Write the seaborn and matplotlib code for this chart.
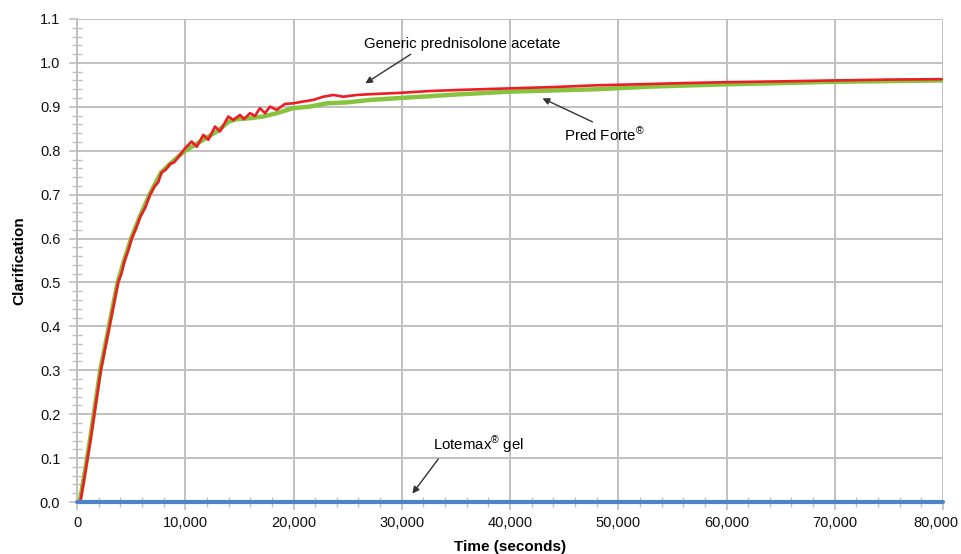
import matplotlib
matplotlib.use("Agg")
import matplotlib.pyplot as plt
import seaborn as sns
from matplotlib.ticker import FuncFormatter, MultipleLocator

# Values (time in seconds, clarification 0-1)
generic_time = [0, 300, 650, 980, 1300, 1600, 1900, 2200, 2600, 3000, 3400, 3800, 4100,
                4400, 4700, 5050, 5400, 5850, 6300, 6750, 7200, 7500, 7800, 8200, 8600,
                9000, 9500, 10000, 10590, 11060, 11670, 12130, 12750, 13210, 13980,
                14440, 15060, 15430, 15980, 16440, 16900, 17370, 17830, 18450, 19210,
                19980, 20900, 21830, 22750, 23680, 24600, 25840, 27070, 30000, 32610,
                36000, 40000, 44000, 48010, 52930, 56000, 59710, 65000, 69870, 75000,
                79880]
generic_clar = [0.0, 0.0, 0.05, 0.10, 0.15, 0.20, 0.25, 0.30, 0.35, 0.40, 0.45, 0.50, 0.52,
                0.55, 0.57, 0.60, 0.62, 0.65, 0.67, 0.70, 0.72, 0.728, 0.75, 0.757, 0.77,
                0.774, 0.79, 0.806, 0.821, 0.809, 0.836, 0.825, 0.855, 0.844, 0.878,
                0.870, 0.8815, 0.872, 0.8855, 0.879, 0.897, 0.8855, 0.9005, 0.893, 0.9066,
                0.908, 0.912, 0.9157, 0.923, 0.927, 0.923, 0.927, 0.9287, 0.932, 0.936,
                0.939, 0.942, 0.945, 0.949, 0.952, 0.954, 0.956, 0.958, 0.960, 0.962,
                0.963]

pred_forte_time = [0, 250, 600, 930, 1250, 1550, 1850, 2150, 2550, 2950, 3350, 3750, 4350,
                   5000, 5800, 6700, 7750, 8600, 9500, 10000, 11000, 12000, 13000, 14000,
                   14750, 15980, 17210, 18450, 19980, 21520, 23070, 24910, 27070,
                   29530, 35000, 40000, 48010, 52930, 59710, 69870, 79880]
pred_forte_clar = [0.0, 0.0, 0.05, 0.10, 0.15, 0.20, 0.25, 0.30, 0.35, 0.40, 0.45, 0.50,
                   0.55, 0.60, 0.65, 0.70, 0.75, 0.77, 0.79, 0.80, 0.815, 0.83, 0.845,
                   0.866, 0.872, 0.874, 0.878, 0.8855, 0.897, 0.9005, 0.908,
                   0.910, 0.9157, 0.9196, 0.928, 0.9346, 0.940, 0.946, 0.951, 0.957,
                   0.960]

lotemax_time = [0, 20000, 40000, 60000, 80000]
lotemax_clar = [0.0, 0.0, 0.0, 0.0, 0.0]

X_MAX = 80000
GRID = "#c0c0c0"

sns.set_theme(style="whitegrid")
plt.rcParams["font.family"] = ["Liberation Sans", "DejaVu Sans"]
plt.rcParams["mathtext.fontset"] = "custom"
plt.rcParams["mathtext.rm"] = "Liberation Sans"
plt.rcParams["mathtext.default"] = "regular"

fig = plt.figure(figsize=(9.62, 5.54), dpi=100)
ax = fig.add_axes([77 / 962, 52 / 554, 866 / 962, 483 / 554])

sns.lineplot(x=pred_forte_time, y=pred_forte_clar, ax=ax, color="#86c440",
             linewidth=3.2, estimator=None, zorder=3)
sns.lineplot(x=generic_time, y=generic_clar, ax=ax, color="#ee1c25",
             linewidth=1.9, estimator=None, zorder=4)
sns.lineplot(x=lotemax_time, y=lotemax_clar, ax=ax, color="#4d84c6",
             linewidth=3.0, estimator=None, zorder=5, clip_on=False)

ax.set_xlim(0, X_MAX)
ax.set_ylim(0, 1.1)
ax.xaxis.set_major_locator(MultipleLocator(10000))
ax.xaxis.set_minor_locator(MultipleLocator(2000))
ax.yaxis.set_major_locator(MultipleLocator(0.1))
ax.yaxis.set_minor_locator(MultipleLocator(0.02))
# last x label is drawn separately, nudged left so it stays inside the figure
ax.xaxis.set_major_formatter(FuncFormatter(lambda v, _: "" if v >= X_MAX else f"{int(v):,}"))
ax.yaxis.set_major_formatter(FuncFormatter(lambda v, _: f"{v:.1f}"))

ax.grid(True, which="major", color=GRID, linewidth=1.4)
ax.grid(False, which="minor")
for side in ["top", "right"]:
    ax.spines[side].set_visible(False)
for side in ["left", "bottom"]:
    ax.spines[side].set_color(GRID)
    ax.spines[side].set_linewidth(1.4)

ax.tick_params(axis="both", which="both", bottom=True, left=True)
ax.tick_params(axis="both", which="major", direction="out", length=6, width=1.2,
               color=GRID, labelsize=10.5, labelcolor="#111111")
ax.tick_params(axis="both", which="minor", direction="inout", length=7, width=1.0,
               color=GRID)
ax.tick_params(axis="x", which="major", pad=4)
ax.tick_params(axis="y", which="major", pad=6)

ax.annotate(f"{X_MAX:,}", xy=(X_MAX, 0), xycoords=("data", "axes fraction"),
            xytext=(-5, -10), textcoords="offset points", ha="center", va="top",
            fontsize=10.5, color="#111111", annotation_clip=False)

ax.set_xlabel("Time (seconds)", fontsize=11, fontweight="bold", color="black")
ax.set_ylabel("Clarification", fontsize=11, fontweight="bold", color="black")
ax.xaxis.set_label_coords(0.5, -0.078)
ax.yaxis.set_label_coords(-0.059, 0.5)

arrow = dict(arrowstyle="-|>", color="#333333", lw=1.0, mutation_scale=10)
ax.annotate("", xy=(26420, 0.950), xytext=(31040, 1.023), arrowprops=arrow)
ax.text(35570, 1.043, "Generic prednisolone acetate", fontsize=10.8, ha="center",
        va="center", color="black")

ax.annotate("", xy=(42770, 0.922), xytext=(47850, 0.863), arrowprops=arrow)
ax.text(44990, 0.836, "Pred Forte$^{®}$", fontsize=10.8, ha="left", va="center",
        color="black")

ax.annotate("", xy=(30830, 0.014), xytext=(33530, 0.103), arrowprops=arrow)
ax.text(32890, 0.13, "Lotemax$^{®}$ gel", fontsize=10.8, ha="left", va="center",
        color="black")

fig.savefig("out.png", dpi=100)
